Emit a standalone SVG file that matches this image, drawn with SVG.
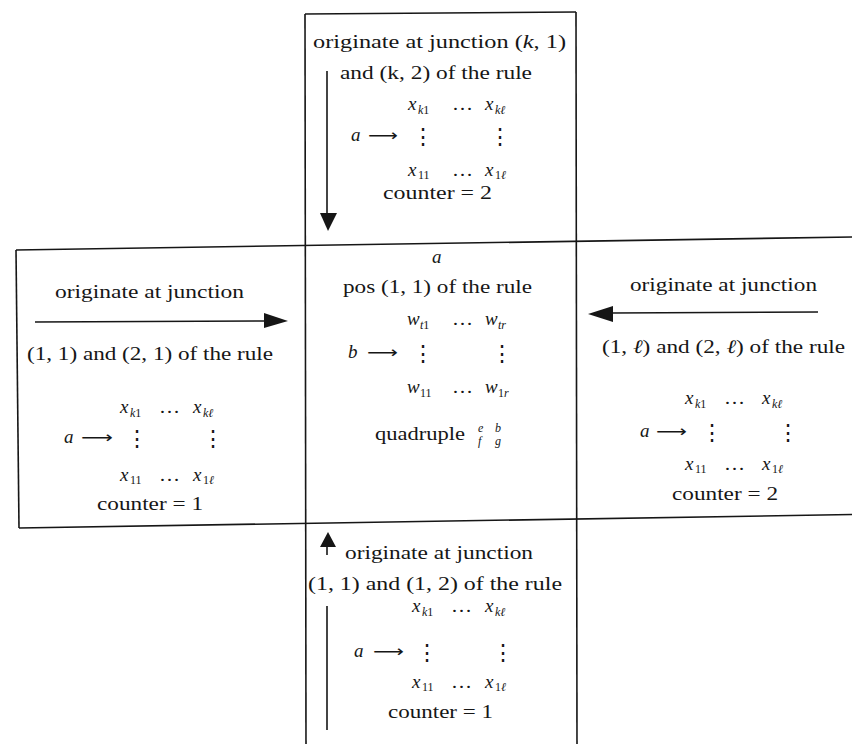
<svg xmlns="http://www.w3.org/2000/svg" width="852" height="744" viewBox="0 0 852 744">
<style>
text{font-family:"Liberation Serif","DejaVu Serif",serif;font-size:19px;fill:#161616}
.m{font-style:italic}
.s{font-size:12px}
.ar{font-family:"DejaVu Sans",sans-serif;font-size:16px}
.vd{font-family:"DejaVu Serif",serif;font-size:22px;text-anchor:middle}
.fr{stroke:#161616;stroke-width:1.6;fill:none}
.cn{stroke:#161616;stroke-width:1.6;fill:none}
.hd{fill:#161616;stroke:none}
</style>
<rect width="852" height="744" fill="#fff"/>
<g id="frame">
<line class="fr" x1="305" y1="14" x2="576" y2="12"/>
<line class="fr" x1="305" y1="14" x2="306" y2="744"/>
<line class="fr" x1="576" y1="12" x2="577" y2="744"/>
<line class="fr" x1="16" y1="250" x2="852" y2="237"/>
<line class="fr" x1="16" y1="250" x2="19" y2="528"/>
<line class="fr" x1="19" y1="528" x2="852" y2="514.5"/>
</g>
<g id="connectors">
<line class="cn" x1="327" y1="71" x2="327" y2="215"/>
<polygon class="hd" points="320,213 337,213 328,231"/>
<line class="cn" x1="35" y1="322" x2="266" y2="321"/>
<polygon class="hd" points="264,313 288,321 264,328"/>
<line class="cn" x1="612" y1="313" x2="818" y2="312"/>
<polygon class="hd" points="613,306 588,314 613,322"/>
<polygon class="hd" points="320,547 336,547 328,532"/>
<line class="cn" x1="327" y1="547" x2="327" y2="555"/>
<line class="cn" x1="327" y1="606" x2="327" y2="730"/>
</g>
<g id="top">
<text x="313" y="48" textLength="253" lengthAdjust="spacingAndGlyphs">originate at junction (<tspan class="m">k</tspan>, 1)</text>
<text x="340" y="79" textLength="192" lengthAdjust="spacingAndGlyphs">and (k, 2) of the rule</text>
<text x="408" y="110" class="m">x</text><text x="418" y="114" class="s"><tspan class="m">k</tspan>1</text>
<text x="452" y="110" textLength="21" lengthAdjust="spacingAndGlyphs">…</text>
<text x="485" y="110" class="m">x</text><text x="495" y="114" class="s"><tspan class="m">kℓ</tspan></text>
<text x="351" y="141" class="m">a</text>
<text x="368" y="141" class="ar" textLength="30" lengthAdjust="spacingAndGlyphs">⟶</text>
<text x="423" y="144" class="vd">⋮</text>
<text x="500" y="144" class="vd">⋮</text>
<text x="408" y="176" class="m">x</text><text x="418" y="179" class="s">11</text>
<text x="452" y="176" textLength="21" lengthAdjust="spacingAndGlyphs">…</text>
<text x="485" y="176" class="m">x</text><text x="495" y="179" class="s">1<tspan class="m">ℓ</tspan></text>
<text x="383" y="199" textLength="109" lengthAdjust="spacingAndGlyphs">counter = 2</text>
</g>
<g id="left">
<text x="55" y="298" textLength="189" lengthAdjust="spacingAndGlyphs">originate at junction</text>
<text x="27" y="360" textLength="246" lengthAdjust="spacingAndGlyphs">(1, 1) and (2, 1) of the rule</text>
<text x="120" y="413" class="m">x</text><text x="130" y="417" class="s"><tspan class="m">k</tspan>1</text>
<text x="159" y="413" textLength="21" lengthAdjust="spacingAndGlyphs">…</text>
<text x="193" y="413" class="m">x</text><text x="203" y="417" class="s"><tspan class="m">kℓ</tspan></text>
<text x="64" y="443" class="m">a</text>
<text x="81" y="443" class="ar" textLength="32" lengthAdjust="spacingAndGlyphs">⟶</text>
<text x="137" y="446" class="vd">⋮</text>
<text x="213" y="446" class="vd">⋮</text>
<text x="120" y="481" class="m">x</text><text x="130" y="484" class="s">11</text>
<text x="159" y="481" textLength="21" lengthAdjust="spacingAndGlyphs">…</text>
<text x="193" y="481" class="m">x</text><text x="203" y="484" class="s">1<tspan class="m">ℓ</tspan></text>
<text x="97" y="510" textLength="106" lengthAdjust="spacingAndGlyphs">counter = 1</text>
</g>
<g id="center">
<text x="432" y="263" class="m">a</text>
<text x="343" y="293" textLength="189" lengthAdjust="spacingAndGlyphs">pos (1, 1) of the rule</text>
<text x="407" y="325" class="m">w</text><text x="420" y="329" class="s"><tspan class="m">t</tspan>1</text>
<text x="452" y="325" textLength="21" lengthAdjust="spacingAndGlyphs">…</text>
<text x="485" y="325" class="m">w</text><text x="498" y="329" class="s"><tspan class="m">tr</tspan></text>
<text x="348" y="358" class="m">b</text>
<text x="367" y="358" class="ar" textLength="31" lengthAdjust="spacingAndGlyphs">⟶</text>
<text x="423" y="361" class="vd">⋮</text>
<text x="502" y="361" class="vd">⋮</text>
<text x="407" y="393" class="m">w</text><text x="420" y="397" class="s">11</text>
<text x="452" y="393" textLength="21" lengthAdjust="spacingAndGlyphs">…</text>
<text x="485" y="393" class="m">w</text><text x="498" y="397" class="s">1<tspan class="m">r</tspan></text>
<text x="375" y="440" textLength="90" lengthAdjust="spacingAndGlyphs">quadruple</text>
<text x="478" y="432" class="s m">e</text>
<text x="495" y="432" class="s m">b</text>
<text x="478" y="445" class="s m">f</text>
<text x="495" y="445" class="s m">g</text>
</g>
<g id="right">
<text x="630" y="291" textLength="187" lengthAdjust="spacingAndGlyphs">originate at junction</text>
<text x="602" y="353" textLength="243" lengthAdjust="spacingAndGlyphs">(1, <tspan class="m">ℓ</tspan>) and (2, <tspan class="m">ℓ</tspan>) of the rule</text>
<text x="685" y="404" class="m">x</text><text x="695" y="408" class="s"><tspan class="m">k</tspan>1</text>
<text x="724" y="404" textLength="21" lengthAdjust="spacingAndGlyphs">…</text>
<text x="762" y="404" class="m">x</text><text x="772" y="408" class="s"><tspan class="m">kℓ</tspan></text>
<text x="640" y="437" class="m">a</text>
<text x="656" y="437" class="ar" textLength="31" lengthAdjust="spacingAndGlyphs">⟶</text>
<text x="712" y="440" class="vd">⋮</text>
<text x="788" y="440" class="vd">⋮</text>
<text x="685" y="470" class="m">x</text><text x="695" y="473" class="s">11</text>
<text x="724" y="470" textLength="21" lengthAdjust="spacingAndGlyphs">…</text>
<text x="762" y="470" class="m">x</text><text x="772" y="473" class="s">1<tspan class="m">ℓ</tspan></text>
<text x="672" y="500" textLength="106" lengthAdjust="spacingAndGlyphs">counter = 2</text>
</g>
<g id="bottom">
<text x="345" y="559" textLength="188" lengthAdjust="spacingAndGlyphs">originate at junction</text>
<text x="308" y="590" textLength="254" lengthAdjust="spacingAndGlyphs">(1, 1) and (1, 2) of the rule</text>
<text x="412" y="612" class="m">x</text><text x="422" y="616" class="s"><tspan class="m">k</tspan>1</text>
<text x="451" y="612" textLength="21" lengthAdjust="spacingAndGlyphs">…</text>
<text x="485" y="612" class="m">x</text><text x="495" y="616" class="s"><tspan class="m">kℓ</tspan></text>
<text x="354" y="657" class="m">a</text>
<text x="373" y="657" class="ar" textLength="31" lengthAdjust="spacingAndGlyphs">⟶</text>
<text x="427" y="660" class="vd">⋮</text>
<text x="503" y="660" class="vd">⋮</text>
<text x="412" y="688" class="m">x</text><text x="422" y="691" class="s">11</text>
<text x="451" y="688" textLength="21" lengthAdjust="spacingAndGlyphs">…</text>
<text x="485" y="688" class="m">x</text><text x="495" y="691" class="s">1<tspan class="m">ℓ</tspan></text>
<text x="388" y="718" textLength="105" lengthAdjust="spacingAndGlyphs">counter = 1</text>
</g>
</svg>
